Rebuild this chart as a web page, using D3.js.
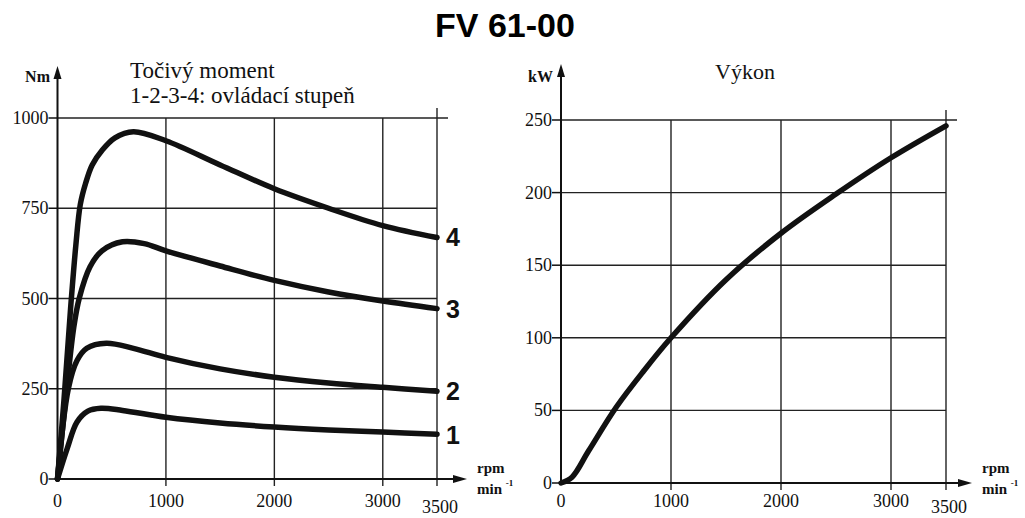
<!DOCTYPE html>
<html>
<head>
<meta charset="utf-8">
<script src="https://cdn.jsdelivr.net/npm/d3@7"></script>
<style>
html,body{margin:0;padding:0;background:#fff;}
svg{display:block;}
</style>
</head>
<body>
<svg id="chart" width="1025" height="518"></svg>
<script>
// ---- data ----
const title = "FV 61-00";
const rpmTicks = [0, 1000, 2000, 3000, 3500];
const torqueTicks = [0, 250, 500, 750, 1000];
const powerTicks = [0, 50, 100, 150, 200, 250];
const gearLabels = ["1", "2", "3", "4"];
// torque curves (rpm, Nm) per control stage
const torque1 = [[0,0],[90,85],[180,158],[280,188],[400,196],[600,190],[1000,171],[1500,155],[2000,144],[2500,136],[3000,130],[3500,124]];
const torque2 = [[0,0],[100,250],[180,328],[270,362],[450,376],[700,362],[1000,337],[1500,305],[2000,282],[2500,266],[3000,254],[3500,243]];
const torque3 = [[0,0],[85,250],[150,420],[200,500],[300,588],[410,632],[600,657],[800,652],[1000,632],[1500,590],[2000,550],[2500,518],[3000,493],[3500,472]];
const torque4 = [[0,0],[60,220],[120,470],[170,650],[210,760],[260,820],[320,870],[410,910],[530,945],[700,962],[1000,937],[1500,870],[2000,804],[2500,750],[3000,702],[3500,669]];
// power curve (rpm, kW)
const power = [[0,0],[100,4],[250,22],[500,52],[750,77],[1000,100],[1500,140],[2000,172],[2500,199],[3000,224],[3500,246]];

const svg = d3.select("#chart");
const serif = "'Liberation Serif','Times New Roman',serif";
const sans = "'Liberation Sans',Arial,sans-serif";

svg.append("text").attr("x", 505).attr("y", 37).attr("text-anchor","middle")
  .attr("font-family", sans).attr("font-weight","bold").attr("font-size", 34).text(title);

function panel(cfg){
  const g = svg.append("g");
  const x = d3.scaleLinear().domain([0,3500]).range(cfg.xr);
  const y = d3.scaleLinear().domain([0,cfg.ymax]).range(cfg.yr);
  const gridCol = "#222";
  cfg.yticks.filter(v=>v>0).forEach(v=>{
    g.append("line").attr("x1", x(0)).attr("x2", v===cfg.ymax ? x(3500)+11 : x(3500))
      .attr("y1", y(v)).attr("y2", y(v)).attr("stroke", gridCol).attr("stroke-width", 1.4);
  });
  rpmTicks.filter(v=>v>0).forEach(v=>{
    g.append("line").attr("x1", x(v)).attr("x2", x(v))
      .attr("y1", y(0)+7).attr("y2", v===3500 ? y(cfg.ymax)-10 : y(cfg.ymax))
      .attr("stroke", gridCol).attr("stroke-width", 1.4);
  });
  cfg.yticks.forEach(v=>{
    g.append("line").attr("x1", x(0)-9).attr("x2", x(0)).attr("y1", y(v)).attr("y2", y(v))
      .attr("stroke","#111").attr("stroke-width",1.5);
    g.append("text").attr("x", x(0)-9).attr("y", y(v)+6).attr("text-anchor","end")
      .attr("font-family", serif).attr("font-size", 18).attr("fill","#111").text(v);
  });
  rpmTicks.forEach(v=>{
    g.append("text").attr("x", x(v) + (v===3500?3:0)).attr("y", v===3500 ? 513 : 507)
      .attr("text-anchor","middle").attr("font-family", serif).attr("font-size", 18)
      .attr("fill","#111").text(v);
  });
  g.append("line").attr("x1", x(0)).attr("x2", x(0)).attr("y1", y(0)).attr("y2", cfg.arrowTop+8)
    .attr("stroke","#111").attr("stroke-width",2);
  g.append("path").attr("d", `M${x(0)},${cfg.arrowTop} L${x(0)-4},${cfg.arrowTop+13} L${x(0)+4},${cfg.arrowTop+13} Z`).attr("fill","#111");
  g.append("line").attr("x1", x(0)).attr("x2", cfg.arrowRight-8).attr("y1", y(0)).attr("y2", y(0))
    .attr("stroke","#111").attr("stroke-width",2);
  g.append("path").attr("d", `M${cfg.arrowRight},${y(0)} L${cfg.arrowRight-14},${y(0)-4} L${cfg.arrowRight-14},${y(0)+4} Z`).attr("fill","#111");
  g.append("text").attr("x", cfg.unitX).attr("y", 82).attr("text-anchor","end")
    .attr("font-family", serif).attr("font-weight","bold").attr("font-size", 16).attr("fill","#111").text(cfg.unit);
  const rx = cfg.arrowRight + 10;
  g.append("text").attr("x", rx).attr("y", 473).attr("font-family", serif).attr("font-weight","bold")
    .attr("font-size", 15).attr("fill","#111").text("rpm");
  const mt = g.append("text").attr("x", rx).attr("y", 494).attr("font-family", serif).attr("font-weight","bold")
    .attr("font-size", 15).attr("fill","#111");
  mt.append("tspan").text("min ");
  mt.append("tspan").attr("dy",-8).attr("font-size",9).text("-1");
  const line = d3.line().x(d=>x(d[0])).y(d=>y(d[1])).curve(d3.curveCatmullRom.alpha(0.5));
  return {g, x, y, line};
}

const L = panel({xr:[57.5,437], yr:[479,118], ymax:1000, yticks:torqueTicks, arrowTop:66, arrowRight:467, unit:"Nm", unitX:50});
const R = panel({xr:[561,946], yr:[483,120], ymax:250, yticks:powerTicks, arrowTop:64, arrowRight:972, unit:"kW", unitX:553});

[torque1, torque2, torque3, torque4].forEach((c,i)=>{
  L.g.append("path").datum(c).attr("d", L.line).attr("fill","none").attr("stroke","#111")
    .attr("stroke-width",5.5).attr("stroke-linecap","round").attr("stroke-linejoin","round");
  const last = c[c.length-1];
  L.g.append("text").attr("x", 446).attr("y", L.y(last[1]) + 9 + (i===0?1:0))
    .attr("font-family", sans).attr("font-weight","bold").attr("font-size", 25).attr("fill","#111").text(gearLabels[i]);
});
R.g.append("path").datum(power).attr("d", R.line).attr("fill","none").attr("stroke","#111")
  .attr("stroke-width",5.5).attr("stroke-linecap","round").attr("stroke-linejoin","round");

const t1 = svg.append("text").attr("font-family", serif).attr("font-size", 23).attr("fill","#111");
t1.append("tspan").attr("x",130).attr("y",78).text("Točivý moment");
t1.append("tspan").attr("x",130).attr("y",103).text("1-2-3-4: ovládací stupeň");
svg.append("text").attr("x",745).attr("y",79).attr("text-anchor","middle").attr("font-family", serif)
  .attr("font-size", 22).attr("fill","#111").text("Výkon");
</script>
</body>
</html>
